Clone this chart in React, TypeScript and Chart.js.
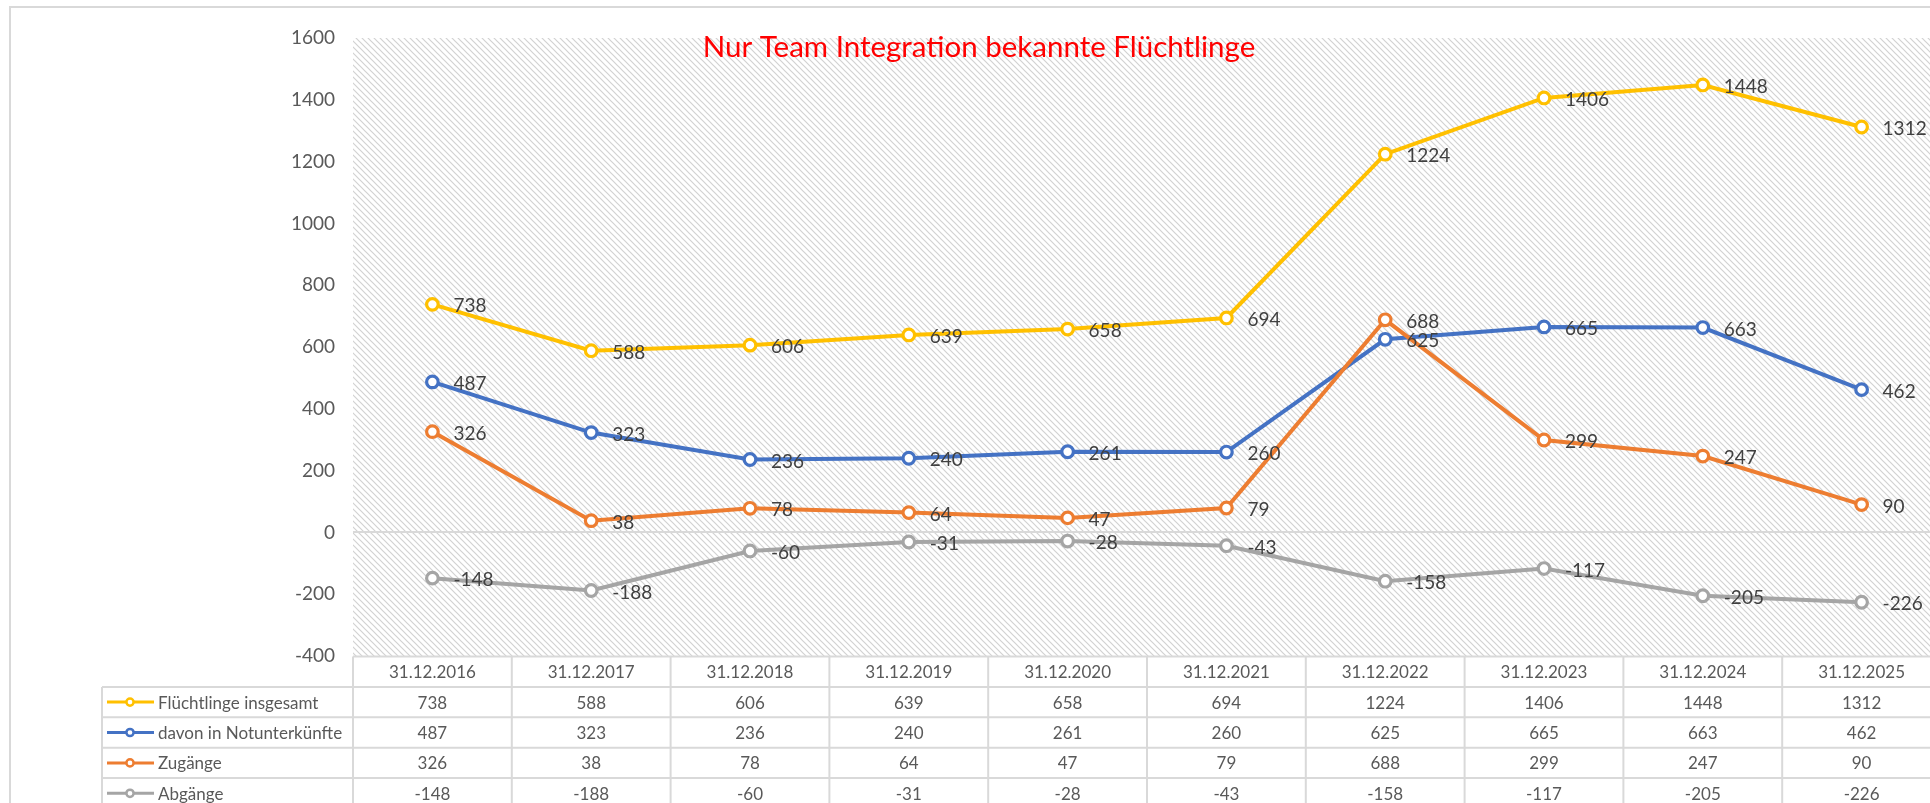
import React, { useEffect, useRef } from "react";
import { Chart, registerables } from "chart.js";

Chart.register(...registerables);

const categories = [
  "31.12.2016", "31.12.2017", "31.12.2018", "31.12.2019", "31.12.2020",
  "31.12.2021", "31.12.2022", "31.12.2023", "31.12.2024", "31.12.2025",
];
const fluechtlingeInsgesamt = [738, 588, 606, 639, 658, 694, 1224, 1406, 1448, 1312];
const davonNotunterkuenfte = [487, 323, 236, 240, 261, 260, 625, 665, 663, 462];
const zugaenge = [326, 38, 78, 64, 47, 79, 688, 299, 247, 90];
const abgaenge = [-148, -188, -60, -31, -28, -43, -158, -117, -205, -226];
const seriesNames = ["Flüchtlinge insgesamt", "davon in Notunterkünfte", "Zugänge", "Abgänge"];
const seriesColors = ["#FFC000", "#4472C4", "#ED7D31", "#A5A5A5"];
const yTicks = [1600, 1400, 1200, 1000, 800, 600, 400, 200, 0, -200, -400];
const titleText = "Nur Team Integration bekannte Flüchtlinge";

const FONT = "Lato, 'Open Sans', sans-serif";
const GRID = "#D9D9D9";
const TEXT = "#595959";

const W = 1950;
const H = 803;

function makePattern(ctx: CanvasRenderingContext2D) {
  const p = 6;
  const c = document.createElement("canvas");
  c.width = p;
  c.height = p;
  const g = c.getContext("2d")!;
  g.fillStyle = "#ffffff";
  g.fillRect(0, 0, p, p);
  g.strokeStyle = "#D2D2D2";
  g.lineWidth = 1.2;
  g.beginPath();
  g.moveTo(-1, -1);
  g.lineTo(p + 1, p + 1);
  g.moveTo(-1, p - 1);
  g.lineTo(1, p + 1);
  g.moveTo(p - 1, -1);
  g.lineTo(p + 1, 1);
  g.stroke();
  return ctx.createPattern(c, "repeat");
}

const backgroundPlugin = {
  id: "bgPattern",
  beforeDraw(chart: any) {
    const { ctx, chartArea } = chart;
    ctx.save();
    ctx.fillStyle = "#ffffff";
    ctx.fillRect(0, 0, chart.width, chart.height);
    const pat = makePattern(ctx);
    if (pat) ctx.fillStyle = pat;
    ctx.fillRect(chartArea.left, chartArea.top, chartArea.right - chartArea.left, chartArea.bottom - chartArea.top);
    ctx.strokeStyle = GRID;
    ctx.lineWidth = 2;
    ctx.strokeRect(10, 7, chart.width + 50, chart.height + 50);
    ctx.restore();
  },
};

const labelPlugin = {
  id: "valueLabels",
  afterDatasetsDraw(chart: any) {
    const { ctx } = chart;
    ctx.save();
    ctx.font = `19px ${FONT}`;
    ctx.fillStyle = "#404040";
    ctx.textAlign = "left";
    ctx.textBaseline = "middle";
    chart.data.datasets.forEach((ds: any, di: number) => {
      const meta = chart.getDatasetMeta(di);
      meta.data.forEach((pt: any, i: number) => {
        ctx.fillText(String(ds.data[i]), pt.x + 21, pt.y + 2);
      });
    });
    ctx.restore();
  },
};

const tablePlugin = {
  id: "dataTable",
  afterDraw(chart: any) {
    const { ctx, chartArea } = chart;
    const xs = chart.scales.x;
    const half = (xs.getPixelForValue(1) - xs.getPixelForValue(0)) / 2;
    const top = chartArea.bottom + 0.5;
    const rowH = 30.4;
    const legendLeft = 102;
    ctx.save();
    ctx.strokeStyle = GRID;
    ctx.lineWidth = 2;
    ctx.beginPath();
    ctx.moveTo(chartArea.left, top);
    ctx.lineTo(chart.width, top);
    for (let r = 1; r <= 5; r++) {
      const y = top + r * rowH;
      ctx.moveTo(legendLeft, y);
      ctx.lineTo(chart.width, y);
    }
    ctx.moveTo(legendLeft, top + rowH);
    ctx.lineTo(legendLeft, chart.height + 20);
    for (let i = 0; i <= categories.length; i++) {
      const x = xs.getPixelForValue(0) - half + i * 2 * half;
      ctx.moveTo(x, top);
      ctx.lineTo(x, chart.height + 20);
    }
    ctx.stroke();

    ctx.font = `17px ${FONT}`;
    ctx.fillStyle = TEXT;
    ctx.textAlign = "center";
    ctx.textBaseline = "middle";
    categories.forEach((c, i) => {
      ctx.fillText(c, xs.getPixelForValue(i), top + rowH / 2 + 1);
    });
    chart.data.datasets.forEach((ds: any, di: number) => {
      const yc = top + rowH * (di + 1) + rowH / 2 + 1;
      ctx.textAlign = "center";
      ctx.fillStyle = TEXT;
      ds.data.forEach((v: number, i: number) => {
        ctx.fillText(String(v), xs.getPixelForValue(i), yc);
      });
      const ly = yc - 1;
      ctx.strokeStyle = seriesColors[di];
      ctx.lineWidth = 3;
      ctx.beginPath();
      ctx.moveTo(107, ly);
      ctx.lineTo(154, ly);
      ctx.stroke();
      ctx.beginPath();
      ctx.arc(130, ly, 3.6, 0, Math.PI * 2);
      ctx.fillStyle = "#ffffff";
      ctx.fill();
      ctx.lineWidth = 2.5;
      ctx.stroke();
      ctx.fillStyle = TEXT;
      ctx.textAlign = "left";
      ctx.fillText(seriesNames[di], 158, yc);
    });

    ctx.font = `29.5px ${FONT}`;
    ctx.fillStyle = "#FF0000";
    ctx.textAlign = "center";
    ctx.textBaseline = "alphabetic";
    ctx.fillText(titleText, 979, 57);
    ctx.restore();
  },
};

export default function App() {
  const ref = useRef<HTMLCanvasElement | null>(null);
  useEffect(() => {
    const canvas = ref.current!;
    const seriesData = [fluechtlingeInsgesamt, davonNotunterkuenfte, zugaenge, abgaenge];
    const chart = new Chart(canvas, {
      type: "line",
      data: {
        labels: categories,
        datasets: seriesData.map((d, i) => ({
          label: seriesNames[i],
          data: d,
          borderColor: seriesColors[i],
          backgroundColor: "#ffffff",
          pointBackgroundColor: "#ffffff",
          pointBorderColor: seriesColors[i],
          pointRadius: 5.8,
          pointBorderWidth: 3.2,
          borderWidth: 4,
          tension: 0,
          fill: false,
          order: 4 - i,
        })),
      },
      options: {
        responsive: false,
        animation: false,
        events: [],
        devicePixelRatio: 1,
        layout: { padding: { left: 0, top: 38, right: 4, bottom: 0 } },
        plugins: {
          legend: { display: false },
          title: { display: false },
          tooltip: { enabled: false },
        },
        scales: {
          x: {
            type: "category",
            offset: true,
            grid: { display: false },
            border: { display: false },
            ticks: { display: false },
            afterFit: (s: any) => {
              s.height = H - 656;
            },
          },
          y: {
            min: -400,
            max: 1600,
            afterBuildTicks: (s: any) => {
              s.ticks = yTicks.map((v) => ({ value: v }));
            },
            border: { display: false },
            grid: {
              drawTicks: false,
              lineWidth: 2,
              color: (c: any) => (c.tick && c.tick.value === 0 ? GRID : "rgba(0,0,0,0)"),
            },
            ticks: {
              padding: 18,
              color: TEXT,
              font: { family: FONT, size: 19 },
              callback: (v: any) => String(v),
            },
            afterFit: (s: any) => {
              s.width = 353;
            },
          },
        },
      },
      plugins: [backgroundPlugin, labelPlugin, tablePlugin],
    });
    return () => chart.destroy();
  }, []);
  return (
    <div
      style={{
        position: "fixed",
        left: 0,
        top: 0,
        width: 1930,
        height: H,
        overflow: "hidden",
        background: "#ffffff",
      }}
    >
      <canvas ref={ref} width={W} height={H} style={{ width: W, height: H, display: "block" }} />
    </div>
  );
}
